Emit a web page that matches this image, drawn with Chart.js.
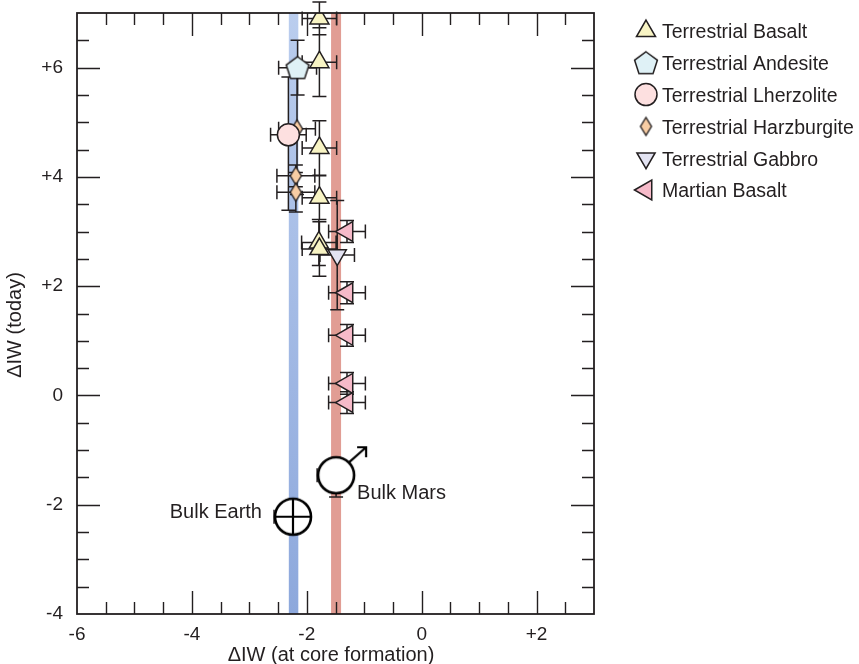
<!DOCTYPE html>
<html>
<head>
<meta charset="utf-8">
<script src="https://cdn.jsdelivr.net/npm/chart.js@4.4.0/dist/chart.umd.min.js"></script>
<style>
  html, body { margin: 0; padding: 0; background: #fff; }
  #wrap { width: 859px; height: 664px; position: relative; }
</style>
</head>
<body>
<div id="wrap"><canvas id="chart"></canvas></div>
<script>
// axis ticks (labelled)
const xTicks = [-6, -4, -2, 0, 2];
const yTicks = [-4, -2, 0, 2, 4, 6];

// core formation bands
const bandEarth = -2.23;
const bandMars = -1.49;

// samples: x = dIW at core formation, y = dIW today, errors (number or [lo, hi])
const basaltX = [-1.78, -1.78, -1.78, -1.78, -1.79, -1.78];
const basaltY = [6.9, 6.1, 4.53, 3.62, 2.8, 2.68];
const basaltXErr = [0.3, 0.3, 0.3, 0.3, 0.3, 0.3];
const basaltYErr = [0.3, 0.63, 0.5, 0.4, 0.42, 0.5];

const andesiteX = [-2.16];
const andesiteY = [6.0];
const andesiteXErr = [0.33];
const andesiteYErr = [0.5];

const lherzX = [-2.32];
const lherzY = [4.77];
const lherzXErr = [0.31];
const lherzYErr = [[1.38, 1.06]];

const harzX = [-2.17, -2.19, -2.19];
const harzY = [4.88, 4.02, 3.72];
const harzXErr = [0.32, 0.33, 0.33];
const harzYErr = [[1.2, 0.95], 0.2, 0.36];

const gabbroX = [-1.47];
const gabbroY = [2.57];
const gabbroXErr = [0.3];
const gabbroYErr = [1.0];

const martianX = [-1.3, -1.3, -1.3, -1.3, -1.3];
const martianY = [3.0, 1.88, 1.1, 0.22, -0.13];
const martianXErr = [0.32, 0.32, 0.32, 0.32, 0.32];
const martianYErr = [0.2, 0.2, 0.2, 0.2, 0.2];

const bulkX = [-2.24, -1.49];
const bulkY = [-2.22, -1.46];
const bulkXErr = [[0.33, 0], [0.33, 0]];
const bulkYErr = [0, [0.4, 0]];
const bulkLabels = ['Bulk Earth', 'Bulk Mars'];

const seriesNames = ['Terrestrial Basalt', 'Terrestrial Andesite', 'Terrestrial Lherzolite',
  'Terrestrial Harzburgite', 'Terrestrial Gabbro', 'Martian Basalt'];

const FONT = '"Liberation Sans", Arial, Helvetica, sans-serif';
const INK = '#231f20';

function pts(xs, ys, xe, ye) {
  return xs.map((x, i) => ({ x, y: ys[i], xe: xe[i], ye: ye[i] }));
}
const pair = e => Array.isArray(e) ? e : [e, e];
const fmtTick = v => v > 0 ? '+' + v : String(v);

// custom marker images
function makePentagon(r) {
  const c = document.createElement('canvas');
  const s = Math.ceil(r * 2 + 4);
  c.width = s; c.height = s;
  const g = c.getContext('2d');
  g.beginPath();
  for (let i = 0; i < 5; i++) {
    const a = -Math.PI / 2 + i * 2 * Math.PI / 5;
    const px = s / 2 + r * Math.cos(a), py = s / 2 + 1 + r * Math.sin(a);
    i ? g.lineTo(px, py) : g.moveTo(px, py);
  }
  g.closePath();
  g.fillStyle = '#dff1f6'; g.fill();
  g.lineWidth = 1.5; g.strokeStyle = INK; g.stroke();
  return c;
}
function makeDiamond(hw, hh) {
  const c = document.createElement('canvas');
  c.width = Math.ceil(hw * 2 + 4); c.height = Math.ceil(hh * 2 + 4);
  const g = c.getContext('2d'), cx = c.width / 2, cy = c.height / 2;
  g.beginPath();
  g.moveTo(cx, cy - hh); g.lineTo(cx + hw, cy); g.lineTo(cx, cy + hh); g.lineTo(cx - hw, cy);
  g.closePath();
  g.fillStyle = '#f8cda4'; g.fill();
  g.lineWidth = 1.4; g.strokeStyle = INK; g.stroke();
  return c;
}
function makeEarth(r) {
  const c = document.createElement('canvas');
  c.width = c.height = r * 2 + 6;
  const g = c.getContext('2d'), m = c.width / 2;
  g.beginPath(); g.arc(m, m, r, 0, Math.PI * 2);
  g.fillStyle = '#fff'; g.fill();
  g.lineWidth = 2.6; g.strokeStyle = '#000'; g.stroke();
  g.beginPath();
  g.moveTo(m - r, m); g.lineTo(m + r, m);
  g.moveTo(m, m - r); g.lineTo(m, m + r);
  g.lineWidth = 2.2; g.stroke();
  return c;
}
function makeMars(r) {
  const c = document.createElement('canvas');
  c.width = c.height = 84;
  const g = c.getContext('2d'), m = 42;
  g.beginPath(); g.arc(m, m, r, 0, Math.PI * 2);
  g.fillStyle = '#fff'; g.fill();
  g.lineWidth = 2.6; g.strokeStyle = '#000'; g.stroke();
  g.beginPath();
  g.moveTo(m + r * 0.7, m - r * 0.7); g.lineTo(m + 30, m - 28);
  g.moveTo(m + 21, m - 28); g.lineTo(m + 30, m - 28); g.lineTo(m + 30, m - 18);
  g.lineWidth = 2.2; g.stroke();
  return c;
}
const pentagonImg = makePentagon(12);
const diamondImg = makeDiamond(5.5, 9);
const bulkSymbols = [makeEarth(18), makeMars(18)];

const markerBase = { pointBorderColor: INK, pointBorderWidth: 1.5, showLine: false };

const coreBands = {
  id: 'coreBands',
  beforeDatasetsDraw(chart) {
    const { ctx, chartArea: a, scales: { x } } = chart;
    ctx.save();
    const grad = ctx.createLinearGradient(0, a.top, 0, a.bottom);
    grad.addColorStop(0, '#bacdee');
    grad.addColorStop(1, '#8da8dc');
    ctx.fillStyle = grad;
    ctx.fillRect(x.getPixelForValue(bandEarth) - 4.75, a.top, 9.5, a.bottom - a.top);
    ctx.fillStyle = '#e19d94';
    ctx.fillRect(x.getPixelForValue(bandMars) - 5, a.top, 10, a.bottom - a.top);
    ctx.restore();
  }
};

const errorBars = {
  id: 'errorBars',
  beforeDatasetsDraw(chart) {
    const { ctx, scales: { x, y } } = chart;
    const cap = 7;
    ctx.save();
    ctx.strokeStyle = INK;
    ctx.lineWidth = 1.5;
    ctx.beginPath();
    chart.data.datasets.forEach(ds => {
      ds.data.forEach(p => {
        const cx = x.getPixelForValue(p.x), cy = y.getPixelForValue(p.y);
        const [xl, xh] = pair(p.xe), [yl, yh] = pair(p.ye);
        if (xl) { const e = x.getPixelForValue(p.x - xl); ctx.moveTo(cx, cy); ctx.lineTo(e, cy); ctx.moveTo(e, cy - cap); ctx.lineTo(e, cy + cap); }
        if (xh) { const e = x.getPixelForValue(p.x + xh); ctx.moveTo(cx, cy); ctx.lineTo(e, cy); ctx.moveTo(e, cy - cap); ctx.lineTo(e, cy + cap); }
        if (yl) { const e = y.getPixelForValue(p.y - yl); ctx.moveTo(cx, cy); ctx.lineTo(cx, e); ctx.moveTo(cx - cap, e); ctx.lineTo(cx + cap, e); }
        if (yh) { const e = y.getPixelForValue(p.y + yh); ctx.moveTo(cx, cy); ctx.lineTo(cx, e); ctx.moveTo(cx - cap, e); ctx.lineTo(cx + cap, e); }
      });
    });
    ctx.stroke();
    ctx.restore();
  }
};

const frameTicks = {
  id: 'frameTicks',
  afterDatasetsDraw(chart) {
    const { ctx, chartArea: a, scales: { x, y } } = chart;
    ctx.save();
    ctx.strokeStyle = INK;
    ctx.lineWidth = 1.4;
    ctx.beginPath();
    for (let v = x.min + 0.5; v < x.max; v += 0.5) {
      const px = Math.round(x.getPixelForValue(v)) + 0.5;
      const len = xTicks.includes(v) ? 23 : 12;
      ctx.moveTo(px, a.bottom); ctx.lineTo(px, a.bottom - len);
      ctx.moveTo(px, a.top); ctx.lineTo(px, a.top + len);
    }
    for (let v = y.min + 0.5; v < y.max; v += 0.5) {
      const py = Math.round(y.getPixelForValue(v)) + 0.5;
      const len = yTicks.includes(v) ? 23 : 12;
      ctx.moveTo(a.left, py); ctx.lineTo(a.left + len, py);
      ctx.moveTo(a.right, py); ctx.lineTo(a.right - len, py);
    }
    ctx.stroke();
    ctx.lineWidth = 1.8;
    ctx.strokeRect(a.left, a.top, a.right - a.left, a.bottom - a.top);

    // bulk labels
    ctx.fillStyle = INK;
    ctx.font = '20px ' + FONT;
    ctx.textBaseline = 'middle';
    const meta = chart.getDatasetMeta(6);
    const e = meta.data[0], m = meta.data[1];
    ctx.textAlign = 'right';
    ctx.fillText(bulkLabels[0], e.x - 31, e.y - 4);
    ctx.textAlign = 'left';
    ctx.fillText(bulkLabels[1], m.x + 21, m.y + 18);

    // axis titles
    ctx.textAlign = 'center';
    ctx.fillText('\u0394IW (at core formation)', 331, 655);
    ctx.translate(15, 325);
    ctx.rotate(-Math.PI / 2);
    ctx.fillText('\u0394IW (today)', 0, 0);
    ctx.restore();
  }
};

const sideLegend = {
  id: 'sideLegend',
  afterDraw(chart) {
    const { ctx } = chart;
    ctx.save();
    seriesNames.forEach((name, i) => {
      const ds = chart.data.datasets[i];
      const cy = 31 + i * 31.8;
      ctx.fillStyle = ds.pointBackgroundColor || '#fff';
      ctx.strokeStyle = INK;
      ctx.lineWidth = 1.5;
      Chart.helpers.drawPoint(ctx, {
        pointStyle: ds.pointStyle, rotation: ds.pointRotation || 0,
        radius: ds.pointRadius, borderWidth: 1.5
      }, 646, cy);
      ctx.fillStyle = INK;
      ctx.font = '19.5px ' + FONT;
      ctx.textAlign = 'left';
      ctx.textBaseline = 'middle';
      ctx.fillText(name, 662, cy + 2);
    });
    ctx.restore();
  }
};

new Chart(document.getElementById('chart'), {
  type: 'scatter',
  data: {
    datasets: [
      { ...markerBase, label: seriesNames[0], data: pts(basaltX, basaltY, basaltXErr, basaltYErr),
        pointStyle: 'triangle', pointRadius: 11, pointBackgroundColor: '#f8f4c4' },
      { ...markerBase, label: seriesNames[1], data: pts(andesiteX, andesiteY, andesiteXErr, andesiteYErr),
        pointStyle: pentagonImg, pointRadius: 12, pointBackgroundColor: '#dff1f6' },
      { ...markerBase, label: seriesNames[2], data: pts(lherzX, lherzY, lherzXErr, lherzYErr),
        pointStyle: 'circle', pointRadius: 11, pointBackgroundColor: '#fde0e0' },
      { ...markerBase, label: seriesNames[3], data: pts(harzX, harzY, harzXErr, harzYErr),
        pointStyle: diamondImg, pointRadius: 9, pointBackgroundColor: '#f8cda4' },
      { ...markerBase, label: seriesNames[4], data: pts(gabbroX, gabbroY, gabbroXErr, gabbroYErr),
        pointStyle: 'triangle', pointRotation: 180, pointRadius: 10.5, pointBackgroundColor: '#e3e3f2' },
      { ...markerBase, label: seriesNames[5], data: pts(martianX, martianY, martianXErr, martianYErr),
        pointStyle: 'triangle', pointRotation: -90, pointRadius: 11.5, pointBackgroundColor: '#f6bac9' },
      { ...markerBase, label: 'Bulk', data: pts(bulkX, bulkY, bulkXErr, bulkYErr),
        pointStyle: c => bulkSymbols[c.dataIndex], pointRadius: 18 }
    ]
  },
  options: {
    responsive: true, maintainAspectRatio: false,
    animation: false,
    events: [],
    layout: { autoPadding: false, padding: { left: 0, top: 13, right: 265, bottom: 0 } },
    plugins: { legend: { display: false }, tooltip: { enabled: false } },
    scales: {
      x: {
        type: 'linear', min: -6, max: 3,
        afterBuildTicks: s => { s.ticks = xTicks.map(v => ({ value: v })); },
        afterFit: s => { s.height = 50; s.paddingLeft = 0; s.paddingRight = 0; },
        grid: { display: false, drawTicks: false },
        border: { display: false },
        ticks: { padding: 9, color: INK, font: { family: FONT, size: 19 }, callback: fmtTick, maxRotation: 0 }
      },
      y: {
        type: 'linear', min: -4, max: 7,
        afterBuildTicks: s => { s.ticks = yTicks.map(v => ({ value: v })); },
        afterFit: s => { s.width = 77; s.paddingTop = 0; s.paddingBottom = 0; },
        grid: { display: false, drawTicks: false },
        border: { display: false },
        ticks: { padding: 14, color: INK, font: { family: FONT, size: 19 }, callback: fmtTick }
      }
    }
  },
  plugins: [coreBands, errorBars, frameTicks, sideLegend]
});
</script>
</body>
</html>
